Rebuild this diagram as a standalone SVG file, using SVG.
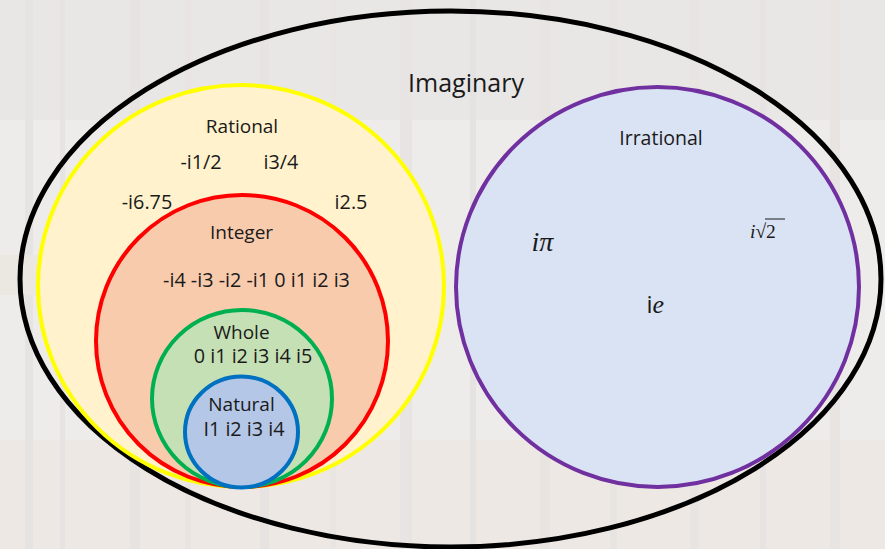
<svg xmlns="http://www.w3.org/2000/svg" width="885" height="549" viewBox="0 0 885 549">
<style>
  .lbl { font-family: "Open Sans", "Liberation Sans", sans-serif; font-size: 19px; fill: #1a1a1a; text-anchor: middle; }
  .num { font-family: "Open Sans", "Liberation Sans", sans-serif; font-size: 19.8px; fill: #1a1a1a; text-anchor: middle; }
  .math { font-family: "Liberation Serif", "DejaVu Serif", serif; fill: #1a1a1a; }
  .ring { stroke-width: 4; }
</style>
<!-- faded background -->
<rect x="0" y="0" width="885" height="549" fill="#eeecea"/>
<g opacity="0.45">
  <rect x="0" y="0" width="885" height="120" fill="#e4e3e3"/>
  <rect x="0" y="440" width="885" height="109" fill="#efe5e1"/>
  <rect x="25" y="0" width="8" height="549" fill="#dcdcdc"/>
  <rect x="60" y="0" width="5" height="549" fill="#e0dada"/>
  <rect x="130" y="0" width="10" height="549" fill="#ddd9d6"/>
  <rect x="185" y="0" width="6" height="549" fill="#e3dcd8"/>
  <rect x="260" y="0" width="9" height="549" fill="#dedad9"/>
  <rect x="330" y="0" width="6" height="549" fill="#e2dedc"/>
  <rect x="400" y="0" width="12" height="549" fill="#e0dbdb"/>
  <rect x="470" y="0" width="6" height="549" fill="#dcdad9"/>
  <rect x="540" y="0" width="10" height="549" fill="#e2dcd9"/>
  <rect x="610" y="0" width="7" height="549" fill="#dfdbda"/>
  <rect x="690" y="0" width="9" height="549" fill="#e1dcda"/>
  <rect x="760" y="0" width="6" height="549" fill="#dedad9"/>
  <rect x="830" y="0" width="10" height="549" fill="#e0dcda"/>
  <rect x="0" y="255" width="60" height="40" fill="#e9e5d8"/>
</g>

<g id="imaginary">
  <ellipse cx="450.5" cy="279" rx="430.5" ry="268" fill="none" stroke="#000000" stroke-width="5"/>
  <text class="lbl" x="466" y="91.5" style="font-size:25px">Imaginary</text>
</g>

<g id="rational">
  <ellipse class="ring" cx="241" cy="286" rx="203" ry="201" fill="#fff2cc" stroke="#ffff00"/>
  <text class="lbl" x="242" y="132.5">Rational</text>
  <text class="num" x="201" y="169">-i1/2</text>
  <text class="num" x="281" y="169">i3/4</text>
  <text class="num" x="147" y="209">-i6.75</text>
  <text class="num" x="351" y="209">i2.5</text>
</g>

<g id="integer">
  <ellipse class="ring" cx="242" cy="341" rx="146" ry="146" fill="#f8cbad" stroke="#ff0000"/>
  <text class="lbl" x="241.5" y="238.5">Integer</text>
  <text class="num" x="256.5" y="286.5">-i4 -i3 -i2 -i1 0 i1 i2 i3</text>
</g>

<g id="whole">
  <ellipse class="ring" cx="242" cy="398.5" rx="90" ry="88.5" fill="#c5e0b4" stroke="#00b050"/>
  <text class="lbl" x="241.5" y="338.5">Whole</text>
  <text class="num" x="253" y="363">0 i1 i2 i3 i4 i5</text>
</g>

<g id="natural">
  <ellipse class="ring" cx="241.5" cy="432" rx="56.5" ry="55.5" fill="#b4c7e7" stroke="#0070c0"/>
  <text class="lbl" x="241.5" y="410.5">Natural</text>
  <text class="num" x="244" y="435.5">I1 i2 i3 i4</text>
</g>

<g id="irrational">
  <ellipse class="ring" cx="657.5" cy="287" rx="201.5" ry="200" fill="#dae3f3" stroke="#7030a0"/>
  <text class="lbl" x="661" y="145" style="font-size:19.5px">Irrational</text>
  <text class="math" x="531.5" y="250.5" font-size="28" font-style="italic">iπ</text>
  <text class="math" x="750" y="237.5" font-size="19.5"><tspan font-style="italic">i</tspan>√2</text>
  <line x1="765" y1="219" x2="785" y2="219" stroke="#1a1a1a" stroke-width="1"/>
  <text class="math" x="646.5" y="312.5" font-size="26"><tspan font-family="Open Sans, Liberation Sans, sans-serif" font-size="24">i</tspan><tspan font-style="italic">e</tspan></text>
</g>
</svg>
